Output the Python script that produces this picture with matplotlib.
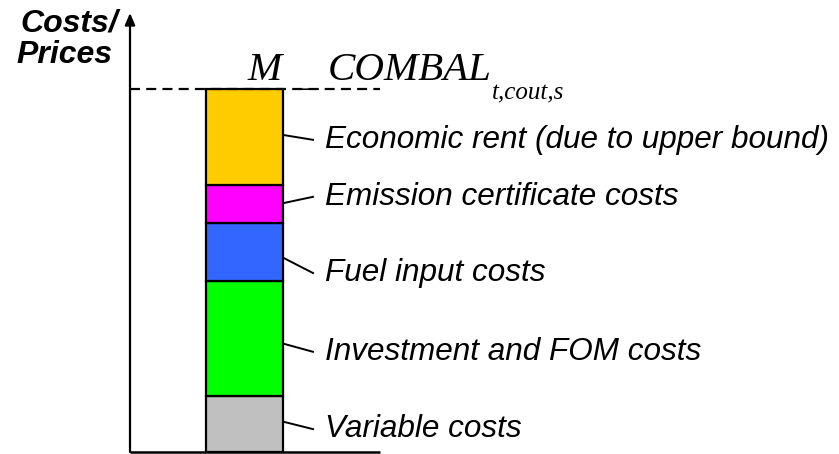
"""
Cost components making up the marginal price of a commodity balance
"""
import matplotlib
matplotlib.use('Agg')
import matplotlib.pyplot as plt

# cost components from bottom to top (share of the price, total = 100)
components = ['Variable costs', 'Investment and FOM costs', 'Fuel input costs',
              'Emission certificate costs', 'Economic rent (due to upper bound)']
values = [15.5, 31.5, 16.0, 10.5, 26.5]
colors = ['#C0C0C0', '#00FF00', '#3366FF', '#FF00FF', '#FFCC00']

# layout of the annotations (label height and where the leader leaves the bar)
label_y = [6.3, 27.6, 49.3, 70.3, 86.0]
leader_y = [8.3, 29.8, 53.4, 68.6, 87.3]

W, H = 839, 454
fig = plt.figure(figsize=(W / 100, H / 100), dpi=100)

# axes from the y axis line (x=130px) to the right edge, y=0 at 452px, top at 13px
left, bottom, top = 130, 452, 13
ax = fig.add_axes([left / W, (H - bottom) / H, 1 - left / W, (bottom - top) / H])
px_per_unit = 3.63
ax.set_ylim(0, (bottom - top) / px_per_unit)
ax.set_xlim(0, (W - left) / 100)
ax.axis('off')

# stacked bar
bar_x = 1.145
bar_w = 0.77
base = 0
for val, col in zip(values, colors):
    ax.bar(bar_x, val, width=bar_w, bottom=base, color=col,
           edgecolor='black', linewidth=1.6, zorder=3)
    base += val
total = base

# axes: y with arrow, x as plain line
ax.annotate('', xy=(0, ax.get_ylim()[1]), xytext=(0, 0),
            arrowprops=dict(arrowstyle='-|>,head_length=0.7,head_width=0.3',
                            color='black', lw=1.6, shrinkA=0, shrinkB=0),
            annotation_clip=False)
ax.plot([0, 2.5], [0, 0], color='black', lw=1.8, clip_on=False,
        solid_capstyle='butt')

# dashed price level
ax.plot([0, 2.5], [total, total], color='black', lw=1.6, ls=(0, (4.5, 2.8)),
        zorder=4)

# labels with leader lines
bar_right = bar_x + bar_w / 2
for name, ly, sy in zip(components, label_y, leader_y):
    ax.plot([bar_right + 0.01, 1.83], [sy, ly], color='black', lw=1.4, zorder=4)
    ax.text(1.95, ly, name, fontsize=22.7, family='Liberation Sans',
            style='italic', va='center', ha='left')

# price variable name
serif = dict(family='Liberation Serif', style='italic', va='baseline')
ax.text(1.17, 102.5, 'M', fontsize=29.5, **serif)
ax.text(1.67, 101.0, '_', fontsize=29.5, **serif)
ax.text(1.98, 102.5, 'COMBAL', fontsize=29.5, **serif)
ax.text(3.62, 97.0, 't,cout,s', fontsize=18, **serif)

# y axis title
fig.text(118 / W, 1 - 32 / H, 'Costs/', fontsize=23, family='Liberation Sans',
         style='italic', weight='bold', ha='right', va='baseline')
fig.text(112 / W, 1 - 63 / H, 'Prices', fontsize=23, family='Liberation Sans',
         style='italic', weight='bold', ha='right', va='baseline')

fig.savefig('out.png', dpi=100)
